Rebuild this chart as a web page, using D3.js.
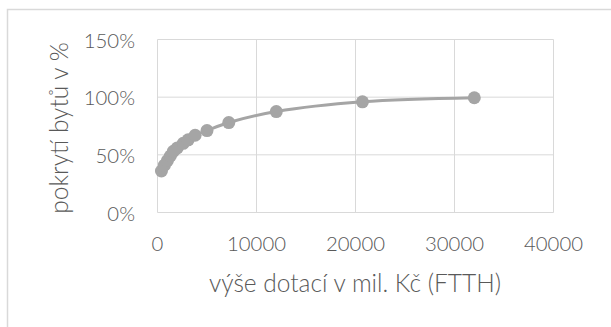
<!DOCTYPE html>
<html>
<head>
<meta charset="utf-8">
<script src="https://cdn.jsdelivr.net/npm/d3@7"></script>
<style>
  html, body { margin: 0; padding: 0; background: #fff; }
  svg { display: block; }
  text { font-family: Lato, "Open Sans", sans-serif; font-weight: 300; fill: #595959; }
</style>
</head>
<body>
<svg id="chart" width="611" height="327"></svg>
<script>
// Subsidy amount (mil. Kč) vs. share of dwellings covered by FTTH
const subsidy = [400, 700, 1000, 1300, 1600, 2000, 2600, 3100, 3800, 5000, 7200, 12000, 20700, 32000];
const coverage = [0.36, 0.41, 0.45, 0.49, 0.53, 0.56, 0.60, 0.63, 0.67, 0.71, 0.78, 0.875, 0.96, 0.995];
const xTicks = [0, 10000, 20000, 30000, 40000];
const yTicks = [0, 0.5, 1.0, 1.5];
const xTitle = "výše dotací v mil. Kč (FTTH)";
const yTitle = "pokrytí bytů v %";

const svg = d3.select("#chart");
const grid = "#d9d9d9";
const ink = "#a5a5a5";

// size a text element so that it spans the given width
function fitWidth(sel, width) {
  sel.attr("font-size", 20);
  const w = sel.node().getComputedTextLength();
  return 20 * width / w;
}

// outer chart frame
svg.append("rect")
  .attr("x", 7.5).attr("y", 9.5)
  .attr("width", 700).attr("height", 400)
  .attr("fill", "none").attr("stroke", grid).attr("stroke-width", 1.5);

const x = d3.scaleLinear().domain([0, 40000]).range([157.5, 553.5]);
const y = d3.scaleLinear().domain([0, 1.5]).range([212.5, 39.5]);

// gridlines
svg.append("g").selectAll("line").data(yTicks).join("line")
  .attr("x1", x(0)).attr("x2", x(40000))
  .attr("y1", d => y(d)).attr("y2", d => y(d))
  .attr("stroke", grid).attr("stroke-width", 1);
svg.append("g").selectAll("line").data(xTicks).join("line")
  .attr("y1", y(0)).attr("y2", y(1.5))
  .attr("x1", d => x(d)).attr("x2", d => x(d))
  .attr("stroke", grid).attr("stroke-width", 1);

// tick labels
const yLabels = svg.append("g").selectAll("text").data(yTicks).join("text")
  .attr("x", 135).attr("y", d => y(d))
  .attr("text-anchor", "end").attr("dominant-baseline", "central")
  .text(d => d3.format(".0%")(d));
const xLabels = svg.append("g").selectAll("text").data(xTicks).join("text")
  .attr("x", d => x(d)).attr("y", 243)
  .attr("text-anchor", "middle").attr("dominant-baseline", "central")
  .text(d => String(d));
const tickSize = fitWidth(xLabels.filter(d => d === 40000), 59);
yLabels.attr("font-size", tickSize);
xLabels.attr("font-size", tickSize);

// axis titles
const xt = svg.append("text")
  .attr("x", 355).attr("y", 282)
  .attr("text-anchor", "middle").attr("dominant-baseline", "central")
  .text(xTitle);
const titleSize = fitWidth(xt, 292);
xt.attr("font-size", titleSize);
svg.append("text")
  .attr("transform", `translate(58,${(y(0) + y(1.5)) / 2 + 2}) rotate(-90)`)
  .attr("text-anchor", "middle").attr("dominant-baseline", "central")
  .attr("font-size", titleSize)
  .text(yTitle);

// series
const pts = subsidy.map((v, i) => [v, coverage[i]]);
svg.append("path")
  .datum(pts)
  .attr("fill", "none").attr("stroke", ink).attr("stroke-width", 3)
  .attr("stroke-linecap", "round")
  .attr("d", d3.line().x(d => x(d[0])).y(d => y(d[1])).curve(d3.curveCatmullRom.alpha(0.5)));
svg.append("g").selectAll("circle").data(pts).join("circle")
  .attr("cx", d => x(d[0])).attr("cy", d => y(d[1]))
  .attr("r", 6.5).attr("fill", ink);
</script>
</body>
</html>
